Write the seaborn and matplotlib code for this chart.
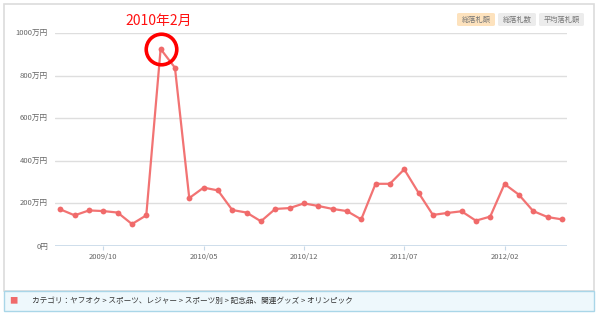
import matplotlib
matplotlib.use("Agg")
import matplotlib.pyplot as plt
from matplotlib.patches import Rectangle, Circle, FancyBboxPatch
import seaborn as sns
import pandas as pd

months = ["2009/07","2009/08","2009/09","2009/10","2009/11","2009/12",
          "2010/01","2010/02","2010/03","2010/04","2010/05","2010/06",
          "2010/07","2010/08","2010/09","2010/10","2010/11","2010/12",
          "2011/01","2011/02","2011/03","2011/04","2011/05","2011/06",
          "2011/07","2011/08","2011/09","2011/10","2011/11","2011/12",
          "2012/01","2012/02","2012/03","2012/04","2012/05","2012/06"]
values = [172, 144, 167, 164, 157, 103,
          144, 925, 837, 225, 274, 261,
          169, 157, 116, 174, 178, 200,
          188, 174, 164, 125, 292, 292,
          360, 250, 146, 155, 163, 119,
          138, 291, 241, 164, 136, 125]
xtick_labels = ["2009/10", "2010/05", "2010/12", "2011/07", "2012/02"]
ytick_values = [0, 200, 400, 600, 800, 1000]
ytick_labels = ["0円", "200万円", "400万円", "600万円", "800万円", "1000万円"]
buttons = ["総落札額", "総落札数", "平均落札額"]
annotation = "2010年2月"
category_text = "カテゴリ：ヤフオク > スポーツ、レジャー > スポーツ別 > 記念品、関連グッズ > オリンピック"

sns.set_theme(style="white")
plt.rcParams['font.family'] = ['Noto Sans CJK JP', 'DejaVu Sans']

W, H = 600, 315
fig = plt.figure(figsize=(6, 3.15), dpi=100)
fig.patch.set_facecolor("white")

def fx(px): return px / W
def fy(py): return 1 - py / H

# outer frame
fig.patches.append(Rectangle((fx(4), fy(291)), fx(594) - fx(4), fy(4) - fy(291),
                             transform=fig.transFigure, fill=False,
                             edgecolor="#dcdcdc", linewidth=1.2, zorder=0))
# legend band
fig.patches.append(Rectangle((fx(4), fy(311)), fx(594) - fx(4), fy(291) - fy(311),
                             transform=fig.transFigure, facecolor="#eef8fc",
                             edgecolor="#a9d6e8", linewidth=1.0, zorder=0))

ax = fig.add_axes([fx(55), fy(246), fx(567) - fx(55), fy(33) - fy(246)])
ax.set_facecolor("none")

df = pd.DataFrame({"month": months, "value": values})
df["idx"] = range(len(df))

sns.lineplot(data=df, x="idx", y="value", ax=ax, color="#f27373",
             linewidth=1.6, marker="o", markersize=4.2,
             markeredgewidth=0, markerfacecolor="#f06a6a", zorder=3)

ax.set_xlim(-0.37, 35.36)
ax.set_ylim(0, 1000)
ax.set_xlabel("")
ax.set_ylabel("")
for s in ax.spines.values():
    s.set_visible(False)

ax.set_yticks(ytick_values)
ax.set_yticklabels(ytick_labels, fontsize=5.5, color="#666666")
ax.tick_params(axis="y", length=0, pad=5)
for v in ytick_values[1:]:
    ax.axhline(v, color="#dedede", linewidth=1.0, zorder=1)
ax.axhline(0, color="#c6d8e8", linewidth=1.2, zorder=1)

xt = [months.index(m) for m in xtick_labels]
ax.set_xticks(xt)
ax.set_xticklabels(xtick_labels, fontsize=5.5, color="#666666")
ax.tick_params(axis="x", length=3, width=0.8, color="#c6d8e8", pad=2, direction="out")
ax.xaxis.set_ticks_position("bottom")

# annotation circle around the peak
peak = values.index(max(values))
ax.plot([peak], [values[peak]], marker="o", markersize=22, markerfacecolor="none",
        markeredgecolor="#ff0000", markeredgewidth=2.6, zorder=4, clip_on=False)
fig.text(fx(159), fy(21), annotation, color="#ff1111", fontsize=10,
         ha="center", va="center")

# buttons
btn_spec = [(457, 495, "#fde2bd"), (498, 536, "#ececec"), (539, 584, "#ececec")]
for (x0, x1, col), label in zip(btn_spec, buttons):
    fig.patches.append(FancyBboxPatch((fx(x0), fy(26)), fx(x1) - fx(x0), fy(13) - fy(26),
                                      boxstyle="round,pad=0,rounding_size=0.004",
                                      transform=fig.transFigure, facecolor=col,
                                      edgecolor="none", zorder=1))
    fig.text(fx((x0 + x1) / 2), fy(19.5), label, fontsize=5.2, color="#777777",
             ha="center", va="center")

# legend text
fig.text(fx(13), fy(301), "■", fontsize=6, color="#f06a6a", ha="center", va="center")
fig.text(fx(32), fy(301), category_text, fontsize=5.5, color="#333333",
         ha="left", va="center")

fig.savefig("out.png", dpi=100)
